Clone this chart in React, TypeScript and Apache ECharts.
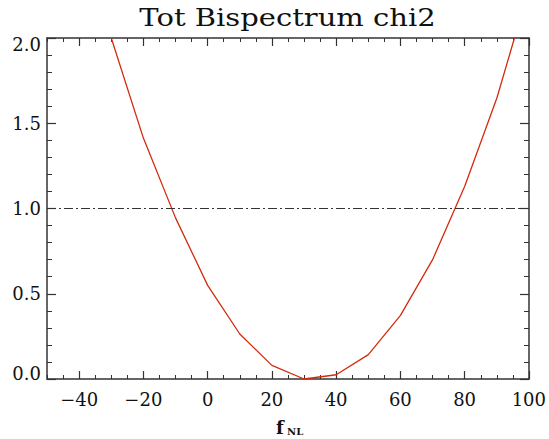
import React, { useEffect, useRef } from "react";
import * as echarts from "echarts";

const fnl = [-30, -20, -10, 0, 10, 20, 30, 40, 50, 60, 70, 80, 90, 100];
const chi2 = [2.0, 1.413, 0.945, 0.549, 0.264, 0.08, 0.0, 0.025, 0.143, 0.373, 0.7, 1.13, 1.648, 2.29];
const threshold = 1.0;
const titleText = "Tot Bispectrum chi2";
const xLabelMain = "f";
const xLabelSub = "NL";

const FONT = "DejaVu Serif";
const X_MIN = -50;
const X_MAX = 100;
const X_MAJOR_START = -40;

export default function App() {
  const ref = useRef<HTMLDivElement>(null);
  useEffect(() => {
    document.body.style.margin = "0";
    const chart = echarts.init(ref.current!, null, { renderer: "svg" });
    const axisColor = "#333";
    const labelStyle = { color: "#111", fontFamily: FONT, fontSize: 18 };
    const minus = (v: number) => String(v).replace("-", "\u2212");

    const gLeft = 47, gRight = 20, gTop = 38, gBottom = 60;
    const plotW = 549 - gLeft - gRight;
    const majorLeft = gLeft + ((X_MAJOR_START - X_MIN) / (X_MAX - X_MIN)) * plotW;

    const xMinor = {
      type: "value",
      gridIndex: 0,
      min: X_MIN,
      max: X_MAX,
      interval: 5,
      axisLine: { show: true, onZero: false, lineStyle: { color: axisColor, width: 1.5 } },
      axisTick: { show: true, inside: true, length: 4, lineStyle: { color: axisColor, width: 1 } },
      axisLabel: { show: false },
      splitLine: { show: false },
    };
    const xMajor = {
      type: "value",
      gridIndex: 1,
      min: X_MAJOR_START,
      max: X_MAX,
      interval: 20,
      axisLine: { show: false, onZero: false },
      axisTick: { show: true, inside: true, length: 8, lineStyle: { color: axisColor, width: 1.2 } },
      splitLine: { show: false },
    };
    const yCommon = {
      type: "value",
      gridIndex: 0,
      min: 0,
      max: 2,
      interval: 0.5,
      axisLine: { show: true, onZero: false, lineStyle: { color: axisColor, width: 1.5 } },
      axisTick: { show: true, inside: true, length: 9, lineStyle: { color: axisColor, width: 1.2 } },
      minorTick: { show: true, splitNumber: 5, length: 5, lineStyle: { color: axisColor, width: 1 } },
      splitLine: { show: false },
    };
    chart.setOption({
      animation: false,
      backgroundColor: "#fff",
      grid: [
        { left: gLeft, right: gRight, top: gTop, bottom: gBottom },
        { left: majorLeft, right: gRight, top: gTop, bottom: gBottom },
      ],
      xAxis: [
        { ...xMinor, position: "bottom" },
        { ...xMinor, position: "top" },
        {
          ...xMajor,
          position: "bottom",
          axisLabel: { ...labelStyle, margin: 11, formatter: minus },
        },
        { ...xMajor, position: "top", axisLabel: { show: false } },
      ],
      yAxis: [
        {
          ...yCommon,
          position: "left",
          axisLabel: {
            ...labelStyle,
            margin: 6,
            formatter: (v: number) =>
              v === 0 ? "{lo|0.0}" : v === 2 ? "{hi|2.0}" : v.toFixed(1),
            rich: {
              lo: { ...labelStyle, padding: [0, 0, 12, 0] },
              hi: { ...labelStyle, padding: [12, 0, 0, 0] },
            },
          },
        },
        { ...yCommon, position: "right", axisLabel: { show: false } },
        { type: "value", gridIndex: 1, min: 0, max: 2, show: false },
      ],
      graphic: [
        {
          type: "text",
          x: 287.5,
          y: 17.5,
          scaleX: 1.16,
          style: {
            text: titleText,
            fontFamily: FONT,
            fontSize: 25,
            fill: "#111",
            align: "center",
            verticalAlign: "middle",
          },
        },
        {
          type: "text",
          x: 276,
          y: 427,
          style: {
            text: xLabelMain,
            fontFamily: FONT,
            fontSize: 18,
            fill: "#111",
            fontWeight: "bold",
            align: "left",
            verticalAlign: "middle",
          },
        },
        {
          type: "text",
          x: 287,
          y: 431.5,
          style: {
            text: xLabelSub,
            fontFamily: FONT,
            fontSize: 10,
            fill: "#111",
            fontWeight: "bold",
            align: "left",
            verticalAlign: "middle",
          },
        },
      ],
      series: [
        {
          type: "line",
          xAxisIndex: 0,
          yAxisIndex: 0,
          data: fnl.map((x, i) => [x, chi2[i]]),
          symbol: "none",
          lineStyle: { color: "#d42a0e", width: 1.3 },
          clip: true,
          markLine: {
            silent: true,
            symbol: "none",
            label: { show: false },
            lineStyle: { color: "#333", width: 1, type: [9, 3, 2, 3] },
            data: [{ yAxis: threshold }],
          },
        },
      ],
    });
    return () => chart.dispose();
  }, []);
  return <div ref={ref} style={{ width: 549, height: 439 }} />;
}
